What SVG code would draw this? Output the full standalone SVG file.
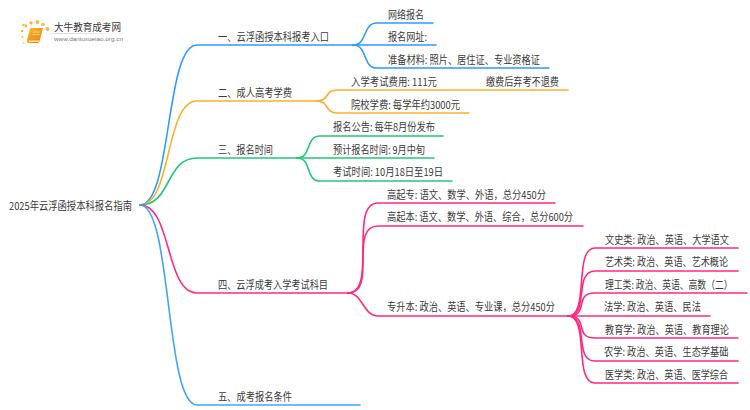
<svg xmlns="http://www.w3.org/2000/svg" width="750" height="410" viewBox="0 0 750 410">
<defs>
<linearGradient id="bk" x1="0" y1="0" x2="1" y2="1"><stop offset="0" stop-color="#fdb92c"/><stop offset="1" stop-color="#ee7d0a"/></linearGradient>
<linearGradient id="rl" x1="0" y1="0" x2="1" y2="0"><stop offset="0" stop-color="#ffffff"/><stop offset=".15" stop-color="#d8d8d8"/><stop offset="1" stop-color="#ffffff"/></linearGradient>
</defs>
<style>
text{font-family:"Noto Sans CJK SC","Liberation Sans",sans-serif;font-size:11px;fill:#3a3a3a}
.c{fill:none;stroke-width:1.6;stroke-linecap:round}
.b{stroke:#2f9bff}.o{stroke:#fbb02d}.g{stroke:#22c77a}.p{stroke:#ff2a7f}.lb{stroke:#3fa5ff}
</style>
<rect width="750" height="410" fill="#fff"/>
<g id="logo">
<g fill="#fbb83a"><circle cx="26" cy="26" r="1.400"/><circle cx="23.500" cy="25" r="1.300"/><circle cx="31" cy="23" r="1.800"/><circle cx="37.500" cy="22" r="1.900"/><circle cx="43" cy="24.500" r="1.800"/><circle cx="47.500" cy="29" r="2"/><circle cx="22" cy="31" r="1.300"/><circle cx="22.500" cy="37" r="1"/><circle cx="23.500" cy="43" r="0.800"/></g>
<path d="M30 28.500Q30.500 28 31 28H43L39.500 41.500Q39 43 37.500 43H29Q26.500 43 27 40Z" fill="url(#bk)"/>
<path d="M28.500 40.500H39.500L39 42H29Z" fill="#ffe3b0"/>
<path d="M33 32H40M32.500 34.500H39.500" stroke="#ffe3b0" stroke-width=".8" fill="none"/>
<text x="54" y="31" textLength="67" lengthAdjust="spacingAndGlyphs" style="font-size:10px">大牛教育成考网</text>
<rect x="45" y="33" width="88" height="1" fill="url(#rl)"/>
<text x="54" y="41" textLength="69" lengthAdjust="spacingAndGlyphs" style="font-size:6px;font-family:'Liberation Sans',sans-serif;fill:#777">www.daniuxueiao.org.cn</text>
</g>
<g id="connectors">
<path class="c b" d="M140 205C172 205 165 45 197 45H353"/>
<path class="c o" d="M140 205C172 205 165 101 197 101H316"/>
<path class="c g" d="M140 205C172 205 165 158 197 158H297"/>
<path class="c p" d="M140 205C172 205 165 293 197 293H348"/>
<path class="c lb" d="M140 205C172 205 165 405 197 405H360"/>
<path class="c b" d="M353 45C368 45 362 23 377 23H433"/>
<path class="c b" d="M353 45H436"/>
<path class="c b" d="M353 45C368 45 362 68 377 68H549"/>
<path class="c o" d="M316 101C331 101 323 90 338 90H568"/>
<path class="c o" d="M316 101C331 101 323 113 338 113H469"/>
<path class="c g" d="M297 158C312 158 305 136 320 136H443"/>
<path class="c g" d="M297 158H434"/>
<path class="c g" d="M297 158C312 158 305 181 320 181H452"/>
<path class="c p" d="M348 293C378 293 348 203 378 203H555"/>
<path class="c p" d="M348 293C378 293 348 226 378 226H583"/>
<path class="c p" d="M348 293C363 293 363 316 378 316H568"/>
<path class="c p" d="M568 316C590 316 573 248 595 248H738"/>
<path class="c p" d="M568 316C590 316 573 271 595 271H738"/>
<path class="c p" d="M568 316C590 316 573 293 595 293H747"/>
<path class="c p" d="M568 316H710"/>
<path class="c p" d="M568 316C590 316 573 338 595 338H738"/>
<path class="c p" d="M568 316C590 316 573 361 595 361H738"/>
<path class="c p" d="M568 316C590 316 573 383 595 383H738"/>
</g>
<g id="root"><text x="9" y="210" textLength="123" lengthAdjust="spacingAndGlyphs">2025年云浮函授本科报名指南</text></g>
<g id="n1"><text x="218" y="41" textLength="111" lengthAdjust="spacingAndGlyphs">一、云浮函授本科报考入口</text></g>
<g id="n2"><text x="218" y="97" textLength="74" lengthAdjust="spacingAndGlyphs">二、成人高考学费</text></g>
<g id="n3"><text x="218" y="154" textLength="55" lengthAdjust="spacingAndGlyphs">三、报名时间</text></g>
<g id="n4"><text x="218" y="289" textLength="110" lengthAdjust="spacingAndGlyphs">四、云浮成考入学考试科目</text></g>
<g id="n5"><text x="218" y="401" textLength="74" lengthAdjust="spacingAndGlyphs">五、成考报名条件</text></g>
<g id="n11"><text x="388" y="19" textLength="36" lengthAdjust="spacingAndGlyphs">网络报名</text></g>
<g id="n12"><text x="388" y="41" textLength="39" lengthAdjust="spacingAndGlyphs">报名网址:</text></g>
<g id="n13"><text x="388" y="64" textLength="152" lengthAdjust="spacingAndGlyphs">准备材料: 照片、居住证、专业资格证</text></g>
<g id="n21"><text x="351" y="86" textLength="86" lengthAdjust="spacingAndGlyphs">入学考试费用: 111元</text></g>
<g id="n211"><text x="486" y="86" textLength="73" lengthAdjust="spacingAndGlyphs">缴费后弃考不退费</text></g>
<g id="n22"><text x="351" y="109" textLength="109" lengthAdjust="spacingAndGlyphs">院校学费: 每学年约3000元</text></g>
<g id="n31"><text x="333" y="131" textLength="102" lengthAdjust="spacingAndGlyphs">报名公告: 每年8月份发布</text></g>
<g id="n32"><text x="333" y="154" textLength="92" lengthAdjust="spacingAndGlyphs">预计报名时间: 9月中旬</text></g>
<g id="n33"><text x="333" y="176" textLength="110" lengthAdjust="spacingAndGlyphs">考试时间: 10月18日至19日</text></g>
<g id="n41"><text x="387" y="199" textLength="159" lengthAdjust="spacingAndGlyphs">高起专: 语文、数学、外语，总分450分</text></g>
<g id="n42"><text x="387" y="221" textLength="186" lengthAdjust="spacingAndGlyphs">高起本: 语文、数学、外语、综合，总分600分</text></g>
<g id="n43"><text x="387" y="311" textLength="168" lengthAdjust="spacingAndGlyphs">专升本: 政治、英语、专业课，总分450分</text></g>
<g id="n431"><text transform="translate(605 244) scale(.835 1)">文史类: 政治、英语、大学语文</text></g>
<g id="n432"><text transform="translate(605 266) scale(.83 1)">艺术类: 政治、英语、艺术概论</text></g>
<g id="n433"><text transform="translate(605 289) scale(.8 1)">理工类: 政治、英语、高数（二）</text></g>
<g id="n434"><text transform="translate(604 311) scale(.84 1)">法学: 政治、英语、民法</text></g>
<g id="n435"><text transform="translate(605 334) scale(.835 1)">教育学: 政治、英语、教育理论</text></g>
<g id="n436"><text transform="translate(604 356) scale(.84 1)">农学: 政治、英语、生态学基础</text></g>
<g id="n437"><text transform="translate(605 379) scale(.83 1)">医学类: 政治、英语、医学综合</text></g>
</svg>
